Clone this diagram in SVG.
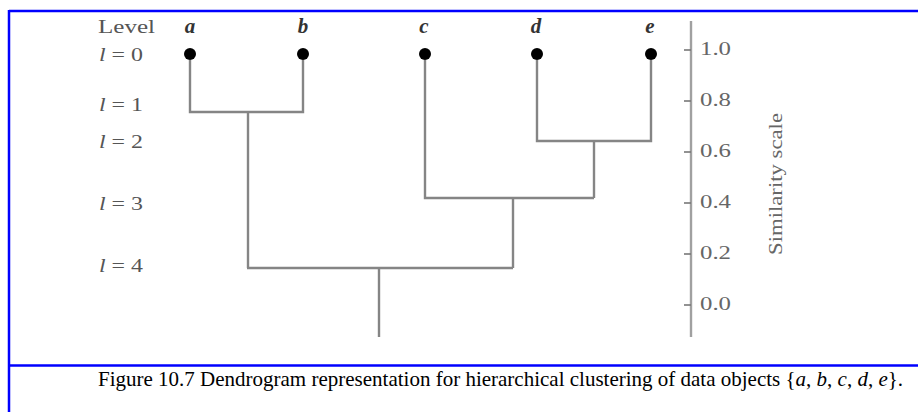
<svg xmlns="http://www.w3.org/2000/svg" width="918" height="412" viewBox="0 0 918 412">
  <style>
    .frame { stroke: #0000ff; stroke-width: 2.5; fill: none; }
    .link { stroke: #858585; stroke-width: 2.4; fill: none; stroke-linecap: butt; }
    .axis { stroke: #a0a0a0; stroke-width: 2.4; fill: none; }
    .tick { stroke: #777; stroke-width: 1.6; }
    .leaf { fill: #000; }
    .lbl { font-family: "Liberation Serif", "Times New Roman", serif; fill: #555; font-size: 19px; }
    .obj { font-family: "Liberation Serif", "Times New Roman", serif; fill: #333; font-size: 21px; font-style: italic; font-weight: bold; text-anchor: middle; }
    .num { font-family: "Liberation Serif", "Times New Roman", serif; fill: #666; font-size: 19px; }
    .cap { font-family: "Liberation Serif", "Times New Roman", serif; fill: #000; font-size: 21px; }
  </style>
  <rect width="918" height="412" fill="#fff"/>

  <!-- frame rules -->
  <g id="frame">
    <line class="frame" x1="9" y1="11" x2="918" y2="11"/>
    <line class="frame" x1="9" y1="10" x2="9" y2="412"/>
    <line class="frame" x1="9" y1="365.5" x2="918" y2="365.5"/>
  </g>

  <!-- level labels -->
  <g id="levels">
    <text class="lbl" x="98" y="33" textLength="57" lengthAdjust="spacingAndGlyphs">Level</text>
    <text class="lbl" x="99" y="61" textLength="44" lengthAdjust="spacingAndGlyphs"><tspan font-style="italic">l</tspan> = 0</text>
    <text class="lbl" x="99" y="111" textLength="44" lengthAdjust="spacingAndGlyphs"><tspan font-style="italic">l</tspan> = 1</text>
    <text class="lbl" x="99" y="148" textLength="44" lengthAdjust="spacingAndGlyphs"><tspan font-style="italic">l</tspan> = 2</text>
    <text class="lbl" x="99" y="210" textLength="44" lengthAdjust="spacingAndGlyphs"><tspan font-style="italic">l</tspan> = 3</text>
    <text class="lbl" x="99" y="272" textLength="44" lengthAdjust="spacingAndGlyphs"><tspan font-style="italic">l</tspan> = 4</text>
  </g>

  <!-- leaf objects -->
  <g id="node-a">
    <text class="obj" x="190" y="33">a</text>
    <circle class="leaf" cx="190" cy="54" r="6"/>
  </g>
  <g id="node-b">
    <text class="obj" x="303" y="33">b</text>
    <circle class="leaf" cx="303" cy="54" r="6"/>
  </g>
  <g id="node-c">
    <text class="obj" x="424" y="33">c</text>
    <circle class="leaf" cx="425" cy="54" r="6"/>
  </g>
  <g id="node-d">
    <text class="obj" x="536" y="33">d</text>
    <circle class="leaf" cx="537" cy="54" r="6"/>
  </g>
  <g id="node-e">
    <text class="obj" x="650" y="33">e</text>
    <circle class="leaf" cx="651" cy="54" r="6"/>
  </g>

  <!-- dendrogram links -->
  <g id="connectors">
    <path class="link" d="M190 60 V112 H303 V60"/>
    <path class="link" d="M248 112 V268"/>
    <path class="link" d="M537 60 V141 H651 V60"/>
    <path class="link" d="M594 141 V198"/>
    <path class="link" d="M425 60 V198 H594"/>
    <path class="link" d="M513 198 V268"/>
    <path class="link" d="M247 268 H513"/>
    <path class="link" d="M379 268 V337"/>
  </g>

  <!-- similarity scale -->
  <g id="scale">
    <line class="axis" x1="691" y1="21" x2="691" y2="337"/>
    <line class="tick" x1="684" y1="50" x2="691" y2="50"/>
    <line class="tick" x1="684" y1="101" x2="691" y2="101"/>
    <line class="tick" x1="684" y1="152" x2="691" y2="152"/>
    <line class="tick" x1="684" y1="203" x2="691" y2="203"/>
    <line class="tick" x1="684" y1="254" x2="691" y2="254"/>
    <line class="tick" x1="684" y1="305" x2="691" y2="305"/>
    <text class="num" x="700" y="55" textLength="31" lengthAdjust="spacingAndGlyphs">1.0</text>
    <text class="num" x="700" y="106" textLength="31" lengthAdjust="spacingAndGlyphs">0.8</text>
    <text class="num" x="700" y="157" textLength="31" lengthAdjust="spacingAndGlyphs">0.6</text>
    <text class="num" x="700" y="208" textLength="31" lengthAdjust="spacingAndGlyphs">0.4</text>
    <text class="num" x="700" y="259" textLength="31" lengthAdjust="spacingAndGlyphs">0.2</text>
    <text class="num" x="700" y="310" textLength="31" lengthAdjust="spacingAndGlyphs">0.0</text>
    <text class="num" transform="translate(782 255) rotate(-90)" x="0" y="0" textLength="142" lengthAdjust="spacingAndGlyphs">Similarity scale</text>
  </g>

  <!-- caption -->
  <text class="cap" x="98" y="386">Figure 10.7 Dendrogram representation for hierarchical clustering of data objects {<tspan font-style="italic">a</tspan>, <tspan font-style="italic">b</tspan>, <tspan font-style="italic">c</tspan>, <tspan font-style="italic">d</tspan>, <tspan font-style="italic">e</tspan>}.</text>
</svg>
